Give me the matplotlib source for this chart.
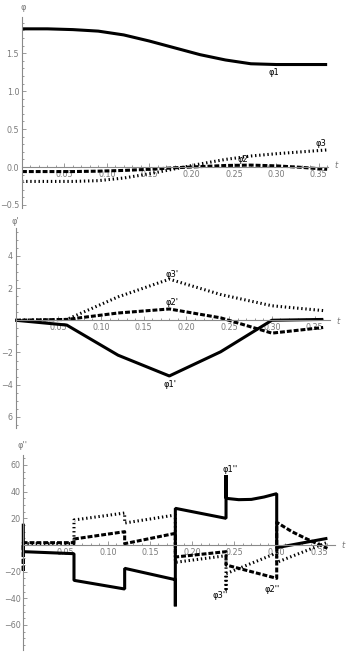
import matplotlib.pyplot as plt
from matplotlib.ticker import MultipleLocator, FixedLocator

# ---- data ----
# top panel: angles
t_pos = [0, 0.03, 0.06, 0.09, 0.12, 0.15, 0.18, 0.21, 0.24, 0.27, 0.30, 0.33, 0.36]
phi1 = [1.82, 1.82, 1.81, 1.79, 1.74, 1.66, 1.57, 1.48, 1.41, 1.36, 1.35, 1.35, 1.35]
phi2 = [-0.06, -0.06, -0.06, -0.055, -0.045, -0.03, -0.01, 0.005, 0.02, 0.025, 0.015, -0.005, -0.03]
phi3 = [-0.19, -0.19, -0.19, -0.18, -0.145, -0.09, -0.025, 0.04, 0.10, 0.145, 0.175, 0.20, 0.225]

# middle panel: angular velocities
t_vel = [0, 0.06, 0.12, 0.18, 0.24, 0.30, 0.36]
dphi1 = [0, -0.3, -2.17, -3.46, -1.96, 0.0, 0.05]
dphi2 = [0, 0.05, 0.45, 0.7, 0.15, -0.8, -0.45]
dphi3 = [0, 0.05, 1.45, 2.55, 1.6, 0.9, 0.6]

# bottom panel: angular accelerations (jumps at the switch points)
t_acc1 = [0, 0, 0.06, 0.06, 0.12, 0.12, 0.18, 0.18, 0.18, 0.24, 0.24, 0.24, 0.255, 0.27, 0.285, 0.30, 0.30, 0.36]
ddphi1 = [16, -5, -6.5, -26.5, -33, -17.5, -26, -46, 27.5, 20, 52.5, 35, 34, 34.2, 36, 38.5, -2, 5]
t_acc2 = [0, 0, 0, 0.06, 0.06, 0.12, 0.12, 0.18, 0.18, 0.24, 0.24, 0.30, 0.30, 0.318, 0.334, 0.36]
ddphi2 = [0, -20, 1.75, 1.75, 4.5, 10, 1, 8.75, -9, -5, -15, -25, 17, 10, 5, -2.5]
t_acc3 = [0, 0.06, 0.06, 0.12, 0.12, 0.18, 0.18, 0.24, 0.24, 0.24, 0.30, 0.30, 0.36]
ddphi3 = [1, 1, 18.75, 24, 16.5, 22.5, -13, -8, -33, -21.5, -6, -13, 2]

W, H = 352, 664
AXC = '#8a8a8a'
TXC = '#7a7a7a'
FS = 5.8

solid = dict(color='black', lw=2.2, solid_capstyle='butt', solid_joinstyle='bevel', clip_on=False)
dashed = dict(color='black', lw=2.2, ls=(0, (1.6, 0.65)), dash_capstyle='butt', clip_on=False)
dotted = dict(color='black', lw=2.2, ls=(0, (0.45, 0.9)), dash_capstyle='butt', clip_on=False)

fig = plt.figure(figsize=(W / 100, H / 100), dpi=100)


def make_axes(left, right, top, bottom, xmax, ylim):
    ax = fig.add_axes([left / W, 1 - bottom / H, (right - left) / W, (bottom - top) / H])
    ax.set_xlim(0, xmax)
    ax.set_ylim(*ylim)
    ax.patch.set_visible(False)
    ax.spines['top'].set_visible(False)
    ax.spines['right'].set_visible(False)
    ax.spines['bottom'].set_position(('data', 0))
    ax.spines['left'].set_position(('data', 0))
    for s in ['bottom', 'left']:
        ax.spines[s].set_color(AXC)
        ax.spines[s].set_linewidth(0.8)
    ax.xaxis.set_major_locator(FixedLocator([0.05, 0.10, 0.15, 0.20, 0.25, 0.30, 0.35]))
    ax.xaxis.set_minor_locator(MultipleLocator(0.01))
    ax.set_xticklabels(['0.05', '0.10', '0.15', '0.20', '0.25', '0.30', '0.35'])
    ax.tick_params(which='both', direction='in', colors=AXC, labelcolor=TXC,
                   labelsize=FS, width=0.6, pad=2)
    ax.tick_params(which='major', length=3)
    ax.tick_params(which='minor', length=1.5)
    return ax


# ---- top panel ----
ax1 = make_axes(22, 328, 16.7, 208, 0.361, (-0.54, 1.98))
ax1.plot(t_pos, phi1, **solid)
ax1.plot(t_pos, phi2, **dashed)
ax1.plot(t_pos, phi3, **dotted)
ax1.yaxis.set_major_locator(FixedLocator([-0.5, 0, 0.5, 1.0, 1.5]))
ax1.set_yticklabels(['\u22120.5', '0.0', '0.5', '1.0', '1.5'])
ax1.yaxis.set_minor_locator(MultipleLocator(0.1))
ax1.text(0.297, 1.24, 'φ1', fontsize=6, ha='center', va='center')
ax1.text(0.26, 0.10, 'φ2', fontsize=6, ha='center', va='center')
ax1.text(0.353, 0.31, 'φ3', fontsize=6, ha='center', va='center')
fig.text(23 / W, 1 - 7 / H, 'φ', fontsize=6, color=TXC, ha='center', va='center')
fig.text(336 / W, 1 - 166 / H, 't', fontsize=6, color=TXC, style='italic', ha='center', va='center')

# ---- middle panel ----
ax2 = make_axes(15.5, 330, 228.3, 428.3, 0.368, (-6.71, 5.71))
ax2.plot(t_vel, dphi1, **solid)
ax2.plot(t_vel, dphi2, **dashed)
ax2.plot(t_vel, dphi3, **dotted)
ax2.yaxis.set_major_locator(FixedLocator([-6, -4, -2, 2, 4]))
ax2.set_yticklabels(['6', '\u22124', '\u22122', '2', '4'])
ax2.yaxis.set_minor_locator(MultipleLocator(0.5))
ax2.text(0.183, 2.86, "φ3'", fontsize=6, ha='center', va='center')
ax2.text(0.183, 1.09, "φ2'", fontsize=6, ha='center', va='center')
ax2.text(0.181, -4.02, "φ1'", fontsize=6, ha='center', va='center')
fig.text(15 / W, 1 - 221.7 / H, "φ'", fontsize=6, color=TXC, ha='center', va='center')
fig.text(338 / W, 1 - 321 / H, 't', fontsize=6, color=TXC, style='italic', ha='center', va='center')

# ---- bottom panel ----
ax3 = make_axes(23.3, 335, 455, 650, 0.369, (-78.75, 67.5))
ax3.plot(t_acc1, ddphi1, **solid)
ax3.plot(t_acc2, ddphi2, **dashed)
ax3.plot(t_acc3, ddphi3, **dotted)
ax3.yaxis.set_major_locator(FixedLocator([-60, -40, -20, 20, 40, 60]))
ax3.set_yticklabels(['\u221260', '\u221240', '\u221220', '20', '40', '60'])
ax3.yaxis.set_minor_locator(MultipleLocator(5))
ax3.text(0.245, 56.8, "φ1''", fontsize=6, ha='center', va='center')
ax3.text(0.233, -38, "φ3''", fontsize=6, ha='center', va='center')
ax3.text(0.294, -33.2, "φ2''", fontsize=6, ha='center', va='center')
fig.text(23 / W, 1 - 445 / H, "φ''", fontsize=6, color=TXC, ha='center', va='center')
fig.text(343 / W, 1 - 545 / H, 't', fontsize=6, color=TXC, style='italic', ha='center', va='center')

fig.savefig('out.png', dpi=100)
